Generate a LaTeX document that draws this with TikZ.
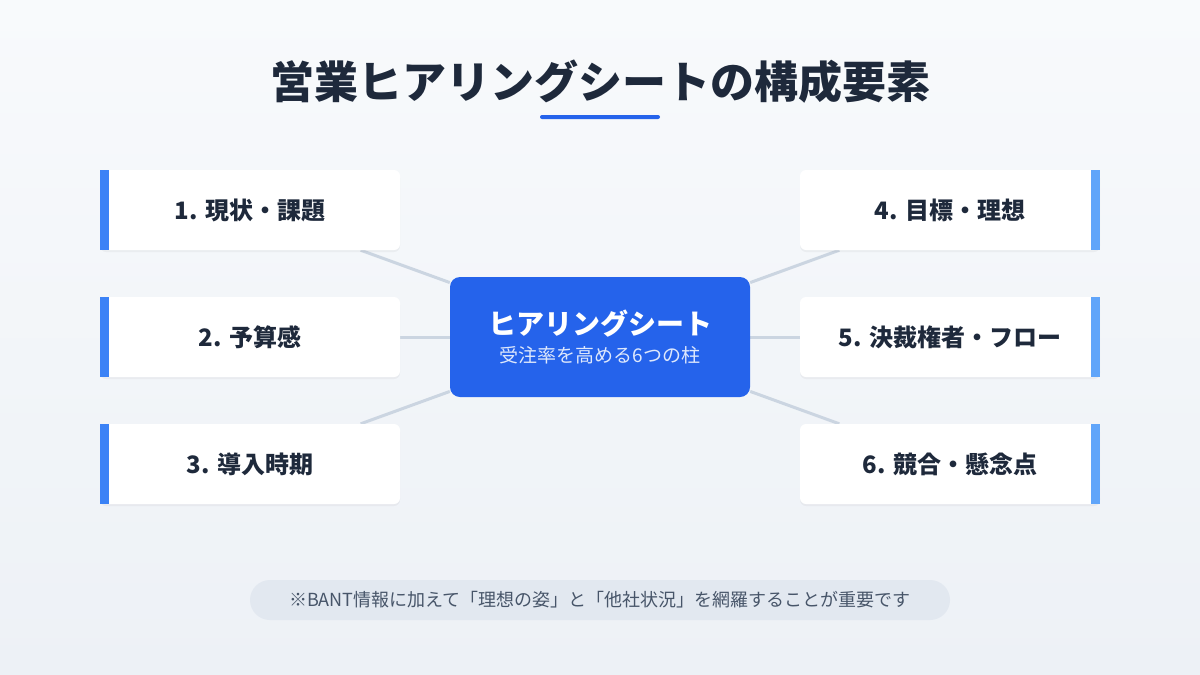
\documentclass[tikz,border=0pt]{standalone}
\usepackage{fontspec}
\setmainfont{Noto Sans CJK JP}
\usetikzlibrary{shadows,backgrounds}
\definecolor{ink}{HTML}{1E293B}
\definecolor{accent}{HTML}{2563EB}
\definecolor{barL}{HTML}{3B82F6}
\definecolor{barR}{HTML}{60A5FA}
\definecolor{link}{HTML}{CBD5E1}
\definecolor{pill}{HTML}{E2E8F0}
\definecolor{note}{HTML}{475569}
\definecolor{bgtop}{HTML}{F8FAFC}
\definecolor{bgbot}{HTML}{EDF1F6}
\begin{document}
\begin{tikzpicture}[x=1pt,y=-1pt,
    item/.style = {fill=white, rounded corners=6pt, minimum width=300pt, minimum height=80pt,
                   drop shadow={opacity=.08, shadow xshift=0pt, shadow yshift=-2pt},
                   font=\fontsize{24}{28}\selectfont\bfseries, text=ink},
    hub/.style = {fill=accent, rounded corners=10pt, minimum width=300pt, minimum height=120pt, text=white},
    spoke/.style = {draw=link, line width=3pt}]
    \begin{scope}[on background layer]
    \shade[top color=bgtop, bottom color=bgbot] (0,0) rectangle (1200,675);
    \end{scope}
    \useasboundingbox (0,0) rectangle (1200,675);

    \node[text=ink, font=\fontsize{44}{50}\selectfont\bfseries] (title) at (600,82) {営業ヒアリングシートの構成要素};
    \fill[accent, rounded corners=2pt] (540,115) rectangle (660,119);

    \node[hub, align=center] (hub) at (600,337)
        {{\fontsize{28}{34}\selectfont\bfseries ヒアリングシート}\\[8pt]
         {\fontsize{19}{22}\selectfont\color{white!85!accent}受注率を高める6つの柱}};

    \node[item] (n1) at (250,210) {1. 現状・課題};
    \node[item] (n2) at (250,337) {2. 予算感};
    \node[item] (n3) at (250,464) {3. 導入時期};
    \node[item] (n4) at (950,210) {4. 目標・理想};
    \node[item] (n5) at (950,337) {5. 決裁権者・フロー};
    \node[item] (n6) at (950,464) {6. 競合・懸念点};

    \foreach \n in {n1,n2,n3} \fill[barL] (\n.north west) rectangle ([xshift=9pt]\n.south west);
    \foreach \n in {n4,n5,n6} \fill[barR] (\n.north east) rectangle ([xshift=-9pt]\n.south east);

    \begin{scope}[on background layer]
    \foreach \n in {n1,n2,n3,n4,n5,n6} \draw[spoke] (\n) -- (hub);
    \end{scope}

    \node[fill=pill, rounded corners=20pt, minimum width=700pt, minimum height=40pt,
          text=note, font=\fontsize{18}{22}\selectfont] (foot) at (600,600)
        {※BANT情報に加えて「理想の姿」と「他社状況」を網羅することが重要です};
\end{tikzpicture}
\end{document}
